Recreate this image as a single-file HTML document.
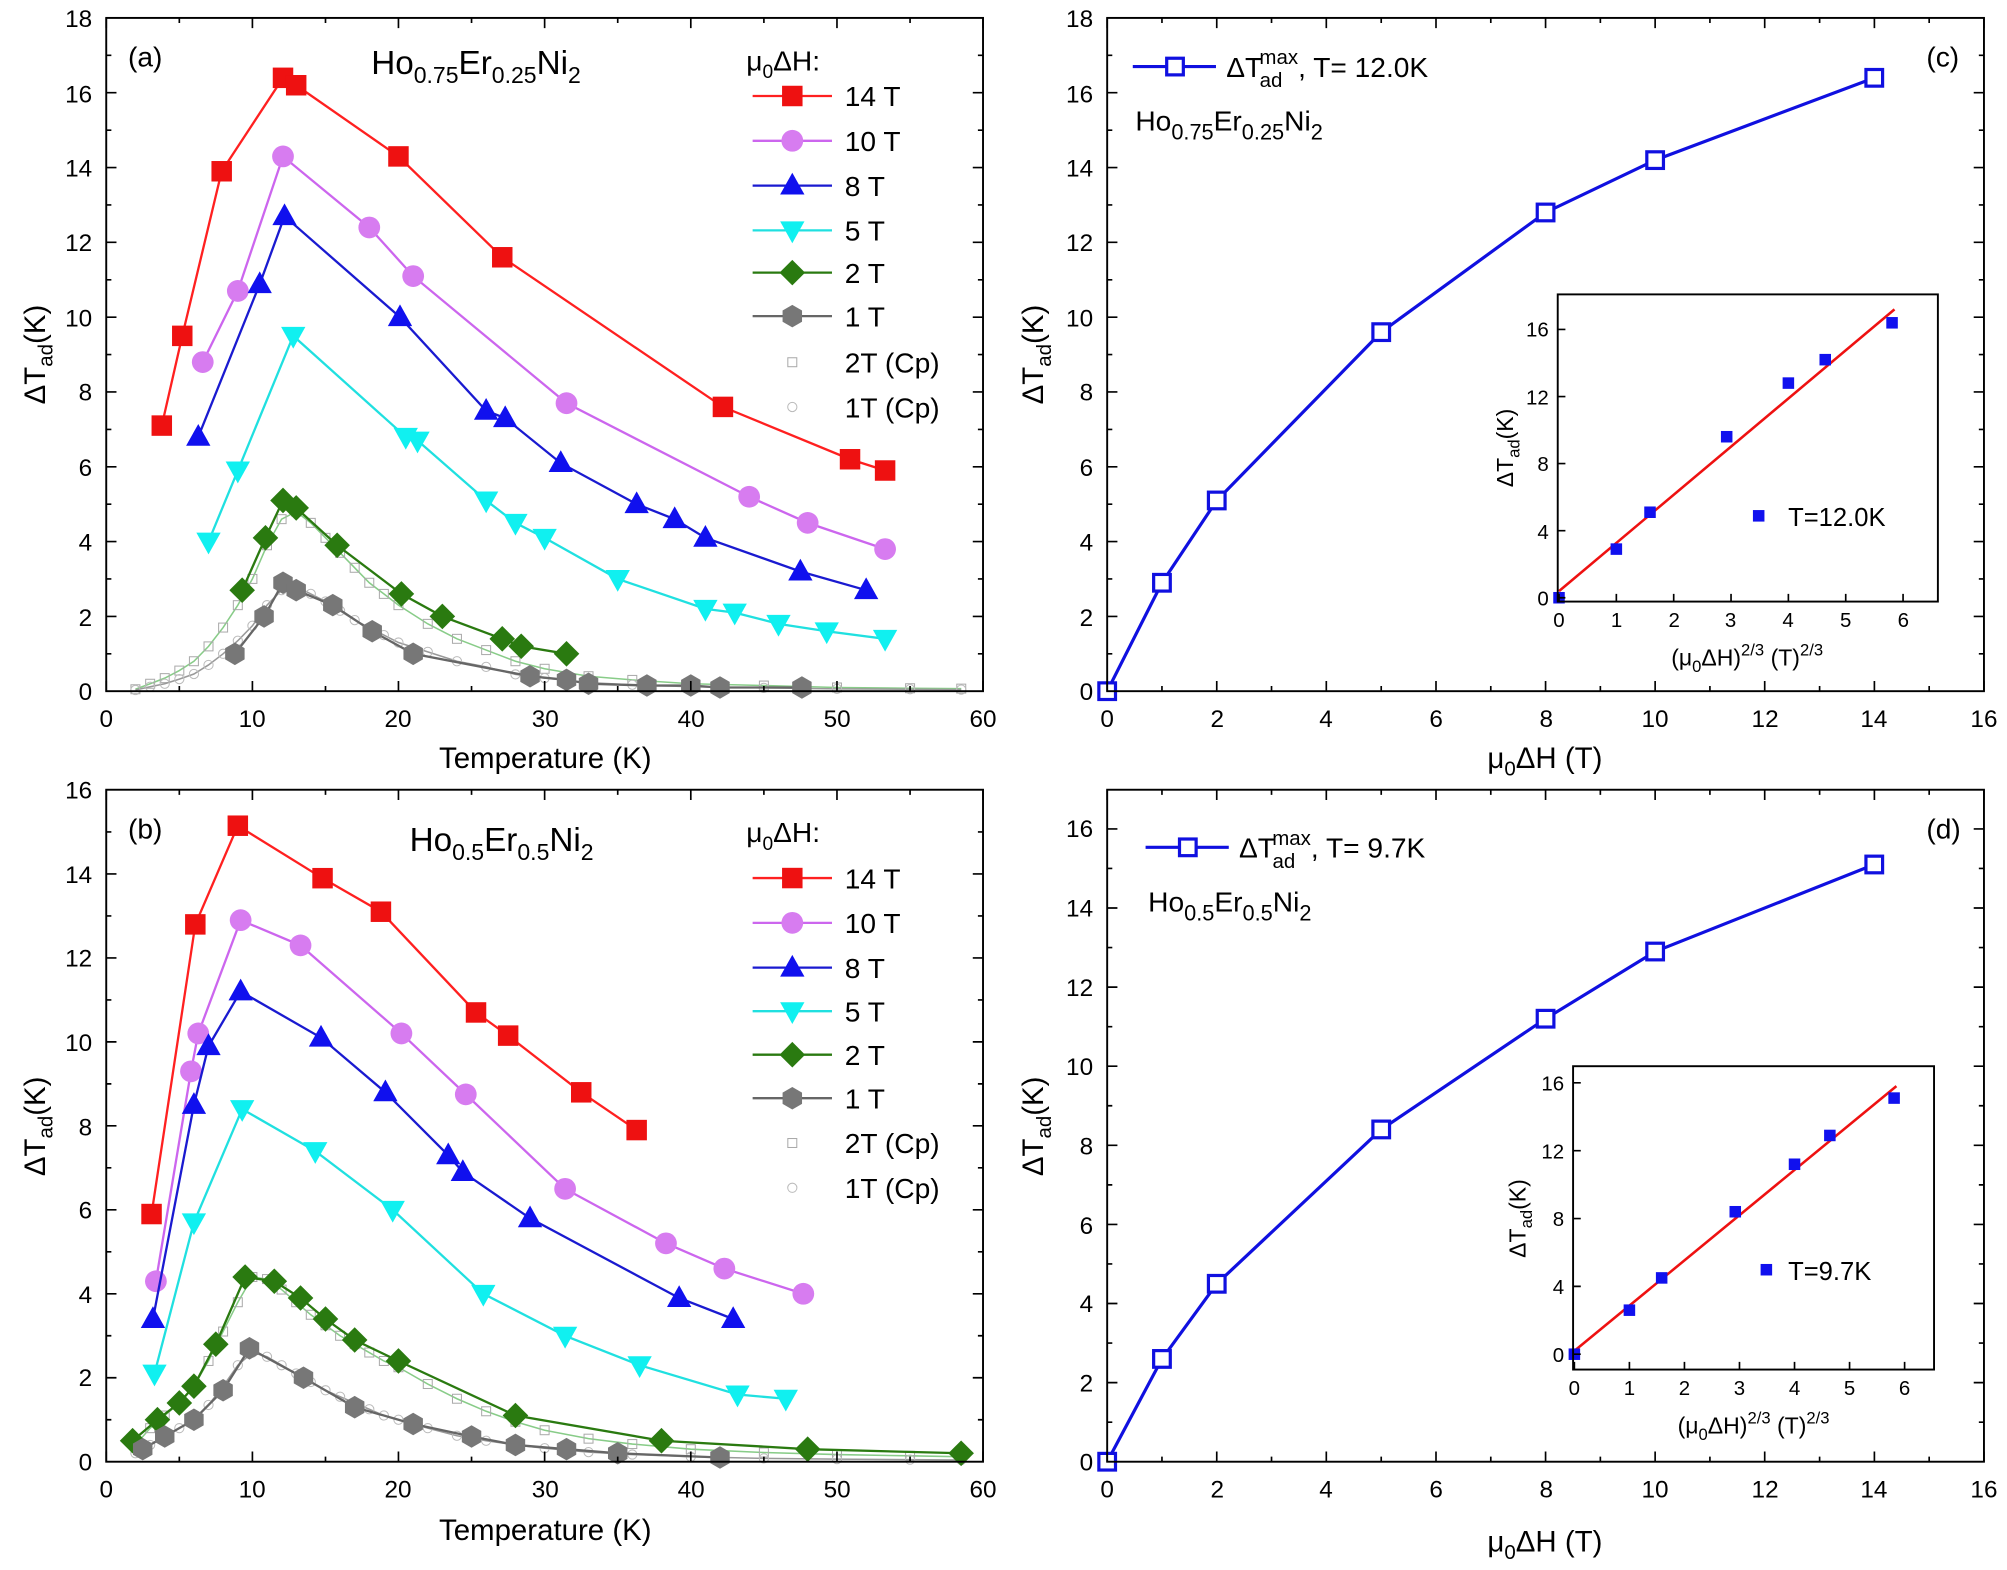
<!DOCTYPE html>
<html><head><meta charset="utf-8"><style>
html,body{margin:0;padding:0;background:#fff}
svg{display:block}
text{font-family:"Liberation Sans",Arial,sans-serif;fill:#000}
.t{font-size:19px}
.l{font-size:23px}
.g{font-size:22px}
.s{fill:none;stroke-width:1.8}
.m{marker-start:var(--m);marker-mid:var(--m);marker-end:var(--m)}
</style></head><body>
<svg width="2007" height="1570" viewBox="0 0 1568 1226.6" preserveAspectRatio="none" xmlns="http://www.w3.org/2000/svg">
<defs>
<marker id="sqR" markerUnits="userSpaceOnUse" overflow="visible" markerWidth="1" markerHeight="1" refX="0" refY="0"><rect x="-8" y="-8" width="16" height="16" fill="#ee1111"/></marker>
<marker id="ciV" markerUnits="userSpaceOnUse" overflow="visible" markerWidth="1" markerHeight="1" refX="0" refY="0"><circle r="8.5" fill="#d77cf0"/></marker>
<marker id="upB" markerUnits="userSpaceOnUse" overflow="visible" markerWidth="1" markerHeight="1" refX="0" refY="0"><polygon points="0,-10 -9.5,7 9.5,7" fill="#1010ee"/></marker>
<marker id="dnC" markerUnits="userSpaceOnUse" overflow="visible" markerWidth="1" markerHeight="1" refX="0" refY="0"><polygon points="0,10 -9.5,-7 9.5,-7" fill="#10f0f0"/></marker>
<marker id="diG" markerUnits="userSpaceOnUse" overflow="visible" markerWidth="1" markerHeight="1" refX="0" refY="0"><polygon points="0,-10 10,0 0,10 -10,0" fill="#2a7a10"/></marker>
<marker id="hxK" markerUnits="userSpaceOnUse" overflow="visible" markerWidth="1" markerHeight="1" refX="0" refY="0"><polygon points="7.6,4.4 0,8.8 -7.6,4.4 -7.6,-4.4 0,-8.8 7.6,-4.4" fill="#777"/></marker>
<marker id="osq" markerUnits="userSpaceOnUse" overflow="visible" markerWidth="1" markerHeight="1" refX="0" refY="0"><rect x="-3.5" y="-3.5" width="7" height="7" fill="none" stroke="#aaa" stroke-width="0.8"/></marker>
<marker id="oci" markerUnits="userSpaceOnUse" overflow="visible" markerWidth="1" markerHeight="1" refX="0" refY="0"><circle r="3.6" fill="none" stroke="#bbb" stroke-width="0.8"/></marker>
<marker id="wsq" markerUnits="userSpaceOnUse" overflow="visible" markerWidth="1" markerHeight="1" refX="0" refY="0"><rect x="-6.5" y="-6.5" width="13" height="13" fill="#fff" stroke="#1010e0" stroke-width="2.5"/></marker>
<marker id="bsq" markerUnits="userSpaceOnUse" overflow="visible" markerWidth="1" markerHeight="1" refX="0" refY="0"><rect x="-4.5" y="-4.5" width="9" height="9" fill="#1010ee"/></marker>
</defs>
<rect width="1568" height="1227" fill="#fff"/>

<!-- Cp curves (a) -->
<polyline class="m" style="--m:url(#osq)" fill="none" stroke="#8c8" stroke-width="1.2" points="105.8,538.5 117.3,534.2 128.7,529.8 140.1,523.9 151.5,516.6 162.9,505 174.3,490.3 185.8,472.8 197.2,452.3 208.6,426 220,405.6 231.4,399.7 242.8,408.5 254.3,420.2 265.7,431.9 277.1,443.6 288.5,455.3 299.9,464 311.3,472.8 334.2,487.4 357,499.1 379.8,507.9 402.7,516.6 425.5,522.5 459.8,528.3 494,531.2 539.7,534.2 596.8,535.6 653.9,537.1 711,537.7 751,538"/>
<polyline class="m" style="--m:url(#oci)" fill="none" stroke="#999" stroke-width="1.2" points="105.8,539.1 117.3,536.5 128.7,534.2 140.1,530.6 151.5,526.6 162.9,519.5 174.3,510.8 185.8,500.6 197.2,488.9 208.6,472.8 220,461.1 231.4,458.2 242.8,464 254.3,469.9 265.7,477.2 277.1,484.5 288.5,490.3 299.9,496.2 311.3,502 334.2,509.3 357,516.6 379.8,521 402.7,526.9 425.5,529.8 459.8,533.3 494,535 539.7,536.5 596.8,537.4 653.9,538.2 711,538.5 751,538.8"/>
<!-- Cp curves (b) -->
<polyline class="m" style="--m:url(#osq)" fill="none" stroke="#8c8" stroke-width="1.2" points="105.8,1128.9 117.3,1115.8 128.7,1105.9 140.1,1096.1 151.5,1083 162.9,1063.3 174.3,1040.3 185.8,1017.4 197.2,997.7 208.6,999.3 220,1007.5 231.4,1017.4 242.8,1027.2 254.3,1035.4 265.7,1043.6 277.1,1050.2 288.5,1056.7 299.9,1063.3 311.3,1068.2 334.2,1081.3 357,1092.8 379.8,1102.6 402.7,1110.8 425.5,1117.4 459.8,1124 494,1128.2 539.7,1132.2 596.8,1134.8 653.9,1136.4 711,1137.4 751,1138.1"/>
<polyline class="m" style="--m:url(#oci)" fill="none" stroke="#999" stroke-width="1.2" points="105.8,1135.4 117.3,1128.9 128.7,1122.3 140.1,1115.8 151.5,1109.2 162.9,1097.7 174.3,1083 185.8,1066.6 197.2,1056.7 208.6,1060 220,1066.6 231.4,1073.1 242.8,1079.7 254.3,1086.2 265.7,1091.2 277.1,1096.1 288.5,1101 299.9,1105.9 311.3,1109.2 334.2,1115.8 357,1121.7 379.8,1125.6 402.7,1128.9 425.5,1131.5 459.8,1134.5 494,1136.4 539.7,1138.1 596.8,1139.4 653.9,1140 711,1140.4 751,1140.7"/>

<!-- (a) series -->
<polyline class="s m" style="--m:url(#sqR)" stroke="#ff2020" points="126.4,332.5 142.4,262.4 173.2,133.8 221.1,60.8 231.4,66.6 311.3,122.2 392.4,201 564.8,317.9 664.1,358.8 691.5,367.6"/>
<polyline class="s m" style="--m:url(#ciV)" stroke="#cc66ee" points="158.4,282.9 185.8,227.3 221.1,122.2 288.5,177.7 322.8,215.7 442.6,315 585.3,388.1 631,408.5 691.5,429"/>
<polyline class="s m" style="--m:url(#upB)" stroke="#1a1ad0" points="154.9,341.3 202.9,222 222.3,168.9 312.5,247.8 379.8,320.9 394.7,326.7 438.1,361.8 497.4,393.9 527.1,405.6 551.1,420.2 625.3,446.5 676.7,461.1"/>
<polyline class="s m" style="--m:url(#dnC)" stroke="#20e0e0" points="162.9,423.1 185.8,367.6 229.1,262.4 317,341.3 326.2,344.2 379.8,391 402.7,408.5 425.5,420.2 482.6,452.3 551.1,475.7 574,478.6 608.2,487.4 645.9,493.2 691.5,499.1"/>
<polyline class="s m" style="--m:url(#diG)" stroke="#2a7a10" points="189.2,461.1 207.4,420.2 221.1,391 231.4,396.8 263.4,426 313.6,464 345.6,481.6 392.4,499.1 407.2,504.9 442.6,510.8"/>
<polyline class="s m" style="--m:url(#hxK)" stroke="#666" points="183.5,510.8 206.3,481.6 221.1,455.3 231.4,461.1 260,472.8 290.8,493.2 322.8,510.8 414.1,528.3 442.6,531.2 459.8,534.2 505.4,535.6 539.7,535.6 562.5,537.1 626.5,537.1"/>

<!-- (b) series -->
<polyline class="s m" style="--m:url(#sqR)" stroke="#ff2020" points="118.4,948.5 152.6,722.2 185.8,645.1 252,686.1 297.6,712.3 371.9,791 397,809.1 454.1,853.4 497.4,882.9"/>
<polyline class="s m" style="--m:url(#ciV)" stroke="#cc66ee" points="121.8,1001 149.2,837 154.9,807.4 188,718.9 234.8,738.6 313.6,807.4 363.9,855 441.5,928.8 520.3,971.4 565.9,991.1 627.6,1010.8"/>
<polyline class="s m" style="--m:url(#upB)" stroke="#1a1ad0" points="119.5,1030.5 151.5,863.2 162.9,817.3 188,774.6 250.8,810.7 301.1,853.4 350.2,902.6 361.6,915.7 414.1,951.8 530.6,1014.1 572.8,1030.5"/>
<polyline class="s m" style="--m:url(#dnC)" stroke="#20e0e0" points="120.7,1073.1 151.5,955 189.2,866.5 246.3,899.3 306.8,945.2 377.6,1010.8 441.5,1043.6 499.7,1066.6 576.2,1089.5 613.9,1092.8"/>
<polyline class="s m" style="--m:url(#diG)" stroke="#2a7a10" points="103.6,1125.6 123,1109.2 140.1,1096.1 151.5,1083 168.6,1050.2 191.5,997.7 214.3,1001 234.8,1014.1 254.3,1030.5 277.1,1046.9 311.3,1063.3 402.7,1105.9 516.8,1125.6 631,1132.2 750.9,1135.4"/>
<polyline class="s m" style="--m:url(#hxK)" stroke="#666" points="111.5,1132.2 128.7,1122.3 151.5,1109.2 174.3,1086.2 194.9,1053.4 237.1,1076.4 277.1,1099.4 322.8,1112.5 368.4,1122.3 402.7,1128.9 442.6,1132.2 482.6,1135.4 562.5,1138.7"/>

<!-- legends a -->
<g class="s">
<polyline style="marker-mid:url(#sqR)" stroke="#ff2020" points="588,75 619,75 650,75"/>
<polyline style="marker-mid:url(#ciV)" stroke="#cc66ee" points="588,110 619,110 650,110"/>
<polyline style="marker-mid:url(#upB)" stroke="#1a1ad0" points="588,145 619,145 650,145"/>
<polyline style="marker-mid:url(#dnC)" stroke="#20e0e0" points="588,180 619,180 650,180"/>
<polyline style="marker-mid:url(#diG)" stroke="#2a7a10" points="588,213 619,213 650,213"/>
<polyline style="marker-mid:url(#hxK)" stroke="#666" points="588,247 619,247 650,247"/>
<polyline style="marker-mid:url(#sqR)" stroke="#ff2020" points="588,686 619,686 650,686"/>
<polyline style="marker-mid:url(#ciV)" stroke="#cc66ee" points="588,721 619,721 650,721"/>
<polyline style="marker-mid:url(#upB)" stroke="#1a1ad0" points="588,756 619,756 650,756"/>
<polyline style="marker-mid:url(#dnC)" stroke="#20e0e0" points="588,790 619,790 650,790"/>
<polyline style="marker-mid:url(#diG)" stroke="#2a7a10" points="588,824 619,824 650,824"/>
<polyline style="marker-mid:url(#hxK)" stroke="#666" points="588,858 619,858 650,858"/>
</g>
<rect x="615.5" y="279.5" width="7" height="7" fill="none" stroke="#aaa" stroke-width="0.8"/>
<circle cx="619" cy="318" r="3.6" fill="none" stroke="#bbb" stroke-width="0.8"/>
<rect x="615.5" y="889.5" width="7" height="7" fill="none" stroke="#aaa" stroke-width="0.8"/>
<circle cx="619" cy="928" r="3.6" fill="none" stroke="#bbb" stroke-width="0.8"/>

<!-- (c),(d) main -->
<polyline class="m" style="--m:url(#wsq)" fill="none" stroke="#1010e0" stroke-width="2.5" points="865,540 907.8,455.3 950.6,391 1079.1,259.5 1207.5,166 1293.1,125.1 1464.3,60.8"/>
<polyline class="m" style="--m:url(#wsq)" fill="none" stroke="#1010e0" stroke-width="2.5" points="865,1142 907.8,1061.7 950.6,1003 1079.1,882.4 1207.5,795.9 1293.1,743.4 1464.3,675.4"/>
<polyline style="marker-mid:url(#wsq)" fill="none" stroke="#1010e0" stroke-width="2.5" points="885,52 918,52 950,52"/>
<polyline style="marker-mid:url(#wsq)" fill="none" stroke="#1010e0" stroke-width="2.5" points="895,662 928,662 960,662"/>
<!-- insets -->
<line x1="1218" y1="461.8" x2="1480.1" y2="241.7" stroke="#ee1111" stroke-width="2"/>
<polyline class="m" style="--m:url(#bsq)" fill="none" stroke="none" points="1218,467 1262.8,429 1289.1,400.2 1349,341.2 1397.2,299.3 1426,281 1478.2,252.2"/>
<line x1="1230" y1="1055.4" x2="1481.6" y2="848.6" stroke="#ee1111" stroke-width="2"/>
<polyline class="m" style="--m:url(#bsq)" fill="none" stroke="none" points="1230,1058 1273,1023.6 1298.2,998.4 1355.7,946.7 1402,909.6 1429.6,887.1 1479.8,857.9"/>
<rect x="1369.5" y="398.5" width="9" height="9" fill="#1010ee"/>
<rect x="1375.5" y="987.5" width="9" height="9" fill="#1010ee"/>

<!-- frames -->
<g fill="none" stroke="#000" stroke-width="1.5">
<rect x="83" y="14" width="685" height="526"/>
<rect x="83" y="617" width="685" height="525"/>
<rect x="865" y="14" width="685" height="526"/>
<rect x="865" y="617" width="685" height="525"/>
<rect x="1217" y="230" width="297" height="240"/>
<rect x="1229" y="833" width="282" height="237"/>
</g>
<!-- ticks -->
<g fill="none" stroke="#000" stroke-width="1.3">
<path d="M83 540v-8M197.2 540v-8M311.3 540v-8M425.5 540v-8M539.7 540v-8M653.9 540v-8M768 540v-8M140.1 540v-4M254.3 540v-4M368.4 540v-4M482.6 540v-4M596.8 540v-4M711 540v-4M83 14v8M197.2 14v8M311.3 14v8M425.5 14v8M539.7 14v8M653.9 14v8M768 14v8M140.1 14v4M254.3 14v4M368.4 14v4M482.6 14v4M596.8 14v4M711 14v4"/>
<path d="M83 1142v-8M197.2 1142v-8M311.3 1142v-8M425.5 1142v-8M539.7 1142v-8M653.9 1142v-8M768 1142v-8M140.1 1142v-4M254.3 1142v-4M368.4 1142v-4M482.6 1142v-4M596.8 1142v-4M711 1142v-4M83 617v8M197.2 617v8M311.3 617v8M425.5 617v8M539.7 617v8M653.9 617v8M768 617v8M140.1 617v4M254.3 617v4M368.4 617v4M482.6 617v4M596.8 617v4M711 617v4"/>
<path d="M865 540v-8M950.6 540v-8M1036.2 540v-8M1121.9 540v-8M1207.5 540v-8M1293.1 540v-8M1378.7 540v-8M1464.4 540v-8M1550 540v-8M907.8 540v-4M993.4 540v-4M1079.1 540v-4M1164.7 540v-4M1250.3 540v-4M1335.9 540v-4M1421.6 540v-4M1507.2 540v-4M865 14v8M950.6 14v8M1036.2 14v8M1121.9 14v8M1207.5 14v8M1293.1 14v8M1378.7 14v8M1464.4 14v8M1550 14v8M907.8 14v4M993.4 14v4M1079.1 14v4M1164.7 14v4M1250.3 14v4M1335.9 14v4M1421.6 14v4M1507.2 14v4"/>
<path d="M865 1142v-8M950.6 1142v-8M1036.2 1142v-8M1121.9 1142v-8M1207.5 1142v-8M1293.1 1142v-8M1378.7 1142v-8M1464.4 1142v-8M1550 1142v-8M907.8 1142v-4M993.4 1142v-4M1079.1 1142v-4M1164.7 1142v-4M1250.3 1142v-4M1335.9 1142v-4M1421.6 1142v-4M1507.2 1142v-4M865 617v8M950.6 617v8M1036.2 617v8M1121.9 617v8M1207.5 617v8M1293.1 617v8M1378.7 617v8M1464.4 617v8M1550 617v8M907.8 617v4M993.4 617v4M1079.1 617v4M1164.7 617v4M1250.3 617v4M1335.9 617v4M1421.6 617v4M1507.2 617v4"/>
<path d="M83 481.6h8M83 423.1h8M83 364.7h8M83 306.2h8M83 247.8h8M83 189.3h8M83 130.9h8M83 72.4h8M83 510.8h4M83 452.3h4M83 393.9h4M83 335.5h4M83 277h4M83 218.6h4M83 160.1h4M83 101.7h4M83 43.2h4M768 481.6h-8M768 423.1h-8M768 364.7h-8M768 306.2h-8M768 247.8h-8M768 189.3h-8M768 130.9h-8M768 72.4h-8M768 510.8h-4M768 452.3h-4M768 393.9h-4M768 335.5h-4M768 277h-4M768 218.6h-4M768 160.1h-4M768 101.7h-4M768 43.2h-4"/>
<path d="M865 481.6h8M865 423.1h8M865 364.7h8M865 306.2h8M865 247.8h8M865 189.3h8M865 130.9h8M865 72.4h8M865 510.8h4M865 452.3h4M865 393.9h4M865 335.5h4M865 277h4M865 218.6h4M865 160.1h4M865 101.7h4M865 43.2h4M1550 481.6h-8M1550 423.1h-8M1550 364.7h-8M1550 306.2h-8M1550 247.8h-8M1550 189.3h-8M1550 130.9h-8M1550 72.4h-8M1550 510.8h-4M1550 452.3h-4M1550 393.9h-4M1550 335.5h-4M1550 277h-4M1550 218.6h-4M1550 160.1h-4M1550 101.7h-4M1550 43.2h-4"/>
<path d="M83 1076.4h8M83 1010.8h8M83 945.2h8M83 879.6h8M83 814h8M83 748.4h8M83 682.8h8M83 1109.2h4M83 1043.6h4M83 978h4M83 912.4h4M83 846.8h4M83 781.2h4M83 715.6h4M83 650h4M768 1076.4h-8M768 1010.8h-8M768 945.2h-8M768 879.6h-8M768 814h-8M768 748.4h-8M768 682.8h-8M768 1109.2h-4M768 1043.6h-4M768 978h-4M768 912.4h-4M768 846.8h-4M768 781.2h-4M768 715.6h-4M768 650h-4"/>
<path d="M865 1080.2h8M865 1018.4h8M865 956.6h8M865 894.8h8M865 833h8M865 771.2h8M865 709.4h8M865 647.6h8M865 1111.1h4M865 1049.3h4M865 987.5h4M865 925.7h4M865 863.9h4M865 802.1h4M865 740.3h4M865 678.5h4M1550 1080.2h-8M1550 1018.4h-8M1550 956.6h-8M1550 894.8h-8M1550 833h-8M1550 771.2h-8M1550 709.4h-8M1550 647.6h-8M1550 1111.1h-4M1550 1049.3h-4M1550 987.5h-4M1550 925.7h-4M1550 863.9h-4M1550 802.1h-4M1550 740.3h-4M1550 678.5h-4"/>
<path d="M1218 470v-6M1262.8 470v-6M1307.6 470v-6M1352.4 470v-6M1397.2 470v-6M1442 470v-6M1486.8 470v-6M1217 467h6M1217 414.6h6M1217 362.2h6M1217 309.8h6M1217 257.4h6"/>
<path d="M1230 1070v-6M1273 1070v-6M1316 1070v-6M1359 1070v-6M1402 1070v-6M1445 1070v-6M1488 1070v-6M1229 1058h6M1229 1005h6M1229 952h6M1229 899h6M1229 846h6"/>
</g>

<g class="t" text-anchor="middle">
<text x="83" y="568">0</text><text x="197" y="568">10</text><text x="311" y="568">20</text><text x="426" y="568">30</text><text x="540" y="568">40</text><text x="654" y="568">50</text><text x="768" y="568">60</text>
<text x="83" y="1170">0</text><text x="197" y="1170">10</text><text x="311" y="1170">20</text><text x="426" y="1170">30</text><text x="540" y="1170">40</text><text x="654" y="1170">50</text><text x="768" y="1170">60</text>
<text x="865" y="568">0</text><text x="951" y="568">2</text><text x="1036" y="568">4</text><text x="1122" y="568">6</text><text x="1208" y="568">8</text><text x="1293" y="568">10</text><text x="1379" y="568">12</text><text x="1464" y="568">14</text><text x="1550" y="568">16</text>
<text x="865" y="1170">0</text><text x="951" y="1170">2</text><text x="1036" y="1170">4</text><text x="1122" y="1170">6</text><text x="1208" y="1170">8</text><text x="1293" y="1170">10</text><text x="1379" y="1170">12</text><text x="1464" y="1170">14</text><text x="1550" y="1170">16</text>
</g>
<g class="t" text-anchor="end">
<text x="72" y="547">0</text><text x="72" y="489">2</text><text x="72" y="430">4</text><text x="72" y="372">6</text><text x="72" y="313">8</text><text x="72" y="255">10</text><text x="72" y="196">12</text><text x="72" y="138">14</text><text x="72" y="80">16</text><text x="72" y="21">18</text>
<text x="72" y="1149">0</text><text x="72" y="1083">2</text><text x="72" y="1018">4</text><text x="72" y="952">6</text><text x="72" y="887">8</text><text x="72" y="821">10</text><text x="72" y="755">12</text><text x="72" y="690">14</text><text x="72" y="624">16</text>
<text x="854" y="547">0</text><text x="854" y="489">2</text><text x="854" y="430">4</text><text x="854" y="372">6</text><text x="854" y="313">8</text><text x="854" y="255">10</text><text x="854" y="196">12</text><text x="854" y="138">14</text><text x="854" y="80">16</text><text x="854" y="21">18</text>
<text x="854" y="1149">0</text><text x="854" y="1087">2</text><text x="854" y="1025">4</text><text x="854" y="964">6</text><text x="854" y="902">8</text><text x="854" y="840">10</text><text x="854" y="778">12</text><text x="854" y="716">14</text><text x="854" y="654">16</text>
</g>
<g style="font-size:16px" text-anchor="middle">
<text x="1218" y="490">0</text><text x="1263" y="490">1</text><text x="1308" y="490">2</text><text x="1352" y="490">3</text><text x="1397" y="490">4</text><text x="1442" y="490">5</text><text x="1487" y="490">6</text>
<text x="1230" y="1090">0</text><text x="1273" y="1090">1</text><text x="1316" y="1090">2</text><text x="1359" y="1090">3</text><text x="1402" y="1090">4</text><text x="1445" y="1090">5</text><text x="1488" y="1090">6</text>
</g>
<g style="font-size:16px" text-anchor="end">
<text x="1210" y="473">0</text><text x="1210" y="421">4</text><text x="1210" y="368">8</text><text x="1210" y="316">12</text><text x="1210" y="263">16</text>
<text x="1222" y="1064">0</text><text x="1222" y="1011">4</text><text x="1222" y="958">8</text><text x="1222" y="905">12</text><text x="1222" y="852">16</text>
</g>
<g class="l" text-anchor="middle">
<text x="426" y="600">Temperature (K)</text>
<text x="426" y="1203">Temperature (K)</text>
<text x="1207" y="600">μ<tspan dy="6" font-size="16">0</tspan><tspan dy="-6">ΔH (T)</tspan></text>
<text x="1207" y="1212">μ<tspan dy="6" font-size="16">0</tspan><tspan dy="-6">ΔH (T)</tspan></text>
<text transform="translate(35,277) rotate(-90)">ΔT<tspan dy="6" font-size="16">ad</tspan><tspan dy="-6">(K)</tspan></text>
<text transform="translate(35,880) rotate(-90)">ΔT<tspan dy="6" font-size="16">ad</tspan><tspan dy="-6">(K)</tspan></text>
<text transform="translate(815,277) rotate(-90)">ΔT<tspan dy="6" font-size="16">ad</tspan><tspan dy="-6">(K)</tspan></text>
<text transform="translate(815,880) rotate(-90)">ΔT<tspan dy="6" font-size="16">ad</tspan><tspan dy="-6">(K)</tspan></text>
</g>
<g style="font-size:18px" text-anchor="middle">
<text x="1365" y="520">(μ<tspan dy="5" font-size="13">0</tspan><tspan dy="-5">ΔH)</tspan><tspan dy="-8" font-size="13">2/3</tspan><tspan dy="8"> (T)</tspan><tspan dy="-8" font-size="13">2/3</tspan></text>
<text x="1370" y="1120">(μ<tspan dy="5" font-size="13">0</tspan><tspan dy="-5">ΔH)</tspan><tspan dy="-8" font-size="13">2/3</tspan><tspan dy="8"> (T)</tspan><tspan dy="-8" font-size="13">2/3</tspan></text>
<text transform="translate(1182,350) rotate(-90)">ΔT<tspan dy="5" font-size="13">ad</tspan><tspan dy="-5">(K)</tspan></text>
<text transform="translate(1192,952) rotate(-90)">ΔT<tspan dy="5" font-size="13">ad</tspan><tspan dy="-5">(K)</tspan></text>
</g>
<g class="g">
<text x="100" y="52">(a)</text>
<text x="100" y="655">(b)</text>
<text x="1505" y="52">(c)</text>
<text x="1505" y="655">(d)</text>
<text x="290" y="58" font-size="26">Ho<tspan dy="7" font-size="18">0.75</tspan><tspan dy="-7">Er</tspan><tspan dy="7" font-size="18">0.25</tspan><tspan dy="-7">Ni</tspan><tspan dy="7" font-size="18">2</tspan></text>
<text x="320" y="665" font-size="26">Ho<tspan dy="7" font-size="18">0.5</tspan><tspan dy="-7">Er</tspan><tspan dy="7" font-size="18">0.5</tspan><tspan dy="-7">Ni</tspan><tspan dy="7" font-size="18">2</tspan></text>
<text x="583" y="55">μ<tspan dy="6" font-size="15">0</tspan><tspan dy="-6">ΔH:</tspan></text>
<text x="583" y="658">μ<tspan dy="6" font-size="15">0</tspan><tspan dy="-6">ΔH:</tspan></text>
<text x="660" y="83">14 T</text><text x="660" y="118">10 T</text><text x="660" y="153">8 T</text><text x="660" y="188">5 T</text><text x="660" y="221">2 T</text><text x="660" y="255">1 T</text><text x="660" y="291">2T (Cp)</text><text x="660" y="326">1T (Cp)</text>
<text x="660" y="694">14 T</text><text x="660" y="729">10 T</text><text x="660" y="764">8 T</text><text x="660" y="798">5 T</text><text x="660" y="832">2 T</text><text x="660" y="866">1 T</text><text x="660" y="901">2T (Cp)</text><text x="660" y="936">1T (Cp)</text>
<text x="958" y="60">ΔT<tspan dy="8" font-size="16" dx="-2">ad</tspan><tspan dx="-18" dy="-18" font-size="16">max</tspan><tspan dy="10">, T= 12.0K</tspan></text>
<text x="887" y="102">Ho<tspan dy="7" font-size="17">0.75</tspan><tspan dy="-7">Er</tspan><tspan dy="7" font-size="17">0.25</tspan><tspan dy="-7">Ni</tspan><tspan dy="7" font-size="17">2</tspan></text>
<text x="968" y="670">ΔT<tspan dy="8" font-size="16" dx="-2">ad</tspan><tspan dx="-18" dy="-18" font-size="16">max</tspan><tspan dy="10">, T= 9.7K</tspan></text>
<text x="897" y="712">Ho<tspan dy="7" font-size="17">0.5</tspan><tspan dy="-7">Er</tspan><tspan dy="7" font-size="17">0.5</tspan><tspan dy="-7">Ni</tspan><tspan dy="7" font-size="17">2</tspan></text>
<text x="1397" y="411" font-size="20">T=12.0K</text>
<text x="1397" y="1000" font-size="20">T=9.7K</text>
</g>
</svg>
</body></html>
